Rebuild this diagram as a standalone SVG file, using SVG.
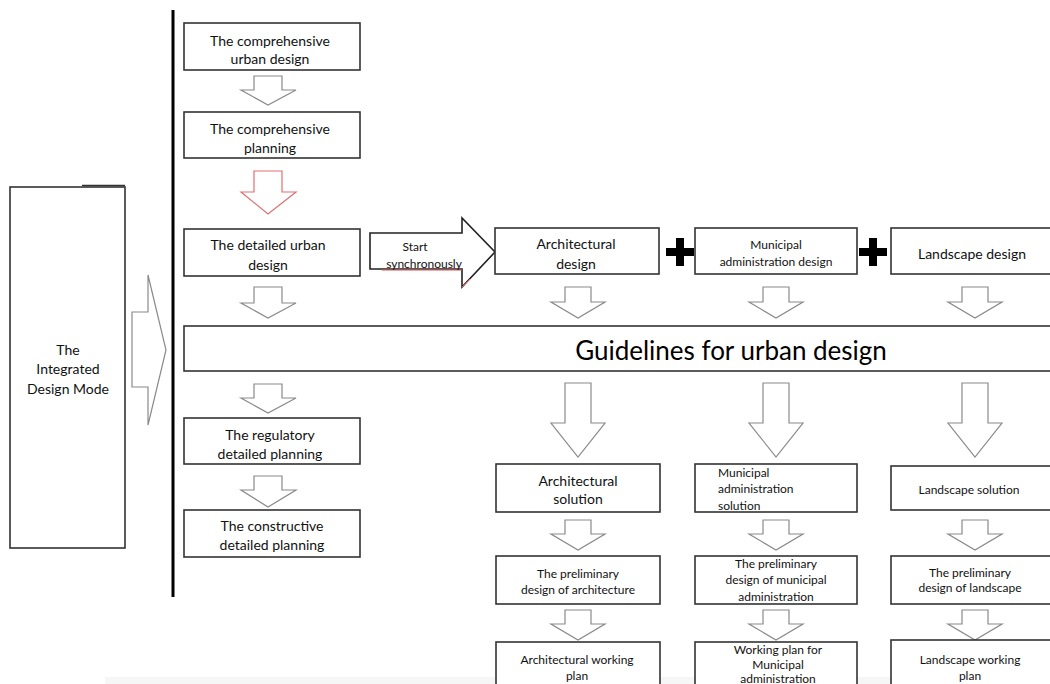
<svg xmlns="http://www.w3.org/2000/svg" width="1050" height="684" viewBox="0 0 1050 684">
<style>
.box{fill:#fff;stroke:#333;stroke-width:1.6}
.t{font-family:Lato,"Open Sans","Liberation Sans",sans-serif;font-size:14px;fill:#111;text-anchor:middle}
.s{font-size:12px}
.arr{fill:#fff;stroke:#8a8a8a;stroke-width:1.2}
.red{stroke:#e07070}
.plus{fill:#000}
</style>
<rect width="1050" height="684" fill="#fff"/>
<rect x="105" y="677" width="945" height="7" fill="#f6f6f6"/>
<line x1="173" y1="10" x2="173" y2="597" stroke="#000" stroke-width="3"/>
<g id="connectors">
<polygon class="arr" points="132,312 148,312 148,275 166,350 148,425 148,387 132,387"/>
<polygon class="arr" points="254,76 282,76 282,90 296,90 268,105 241,90 254,90"/>
<polygon class="arr red" points="254,171 282,171 282,192 296,192 268,214 241,192 254,192"/>
<polygon class="arr" points="254,287 282,287 282,303 296,303 268,318 241,303 254,303"/>
<polygon class="arr" points="254,384 282,384 282,398 296,398 268,413 241,398 254,398"/>
<polygon class="arr" points="254,476 282,476 282,490 296,490 268,507 241,490 254,490"/>
<polygon class="arr" points="565,287 591,287 591,302 605,302 578,318 551,302 565,302"/>
<polygon class="arr" points="763,287 789,287 789,302 803,302 776,318 749,302 763,302"/>
<polygon class="arr" points="962,287 988,287 988,302 1002,302 975,318 948,302 962,302"/>
<polygon class="arr" points="565,383 591,383 591,423 605,423 578,457 551,423 565,423"/>
<polygon class="arr" points="763,383 789,383 789,423 803,423 776,457 749,423 763,423"/>
<polygon class="arr" points="962,383 988,383 988,423 1002,423 975,457 948,423 962,423"/>
<polygon class="arr" points="565,520 591,520 591,534 605,534 578,550 551,534 565,534"/>
<polygon class="arr" points="763,520 789,520 789,534 803,534 776,550 749,534 763,534"/>
<polygon class="arr" points="962,520 988,520 988,534 1002,534 975,550 948,534 962,534"/>
<polygon class="arr" points="565,610 591,610 591,624 605,624 578,640 551,624 565,624"/>
<polygon class="arr" points="763,610 789,610 789,624 803,624 776,640 749,624 763,624"/>
<polygon class="arr" points="962,610 988,610 988,624 1002,624 975,640 948,624 962,624"/>
<polygon points="370,233 462,233 462,218 495,252 462,287 462,269 370,269" fill="#fff" stroke="#222" stroke-width="1.6"/>
<line x1="382" y1="270" x2="462" y2="270" stroke="#e05050" stroke-width="1"/>
<line x1="462" y1="287" x2="470" y2="279" stroke="#e05050" stroke-width="1"/>
<path class="plus" d="M676,238h8v10h10v8h-10v10h-8v-10h-10v-8h10z"/>
<path class="plus" d="M869,238h8v10h10v8h-10v10h-8v-10h-10v-8h10z"/>
</g>
<g id="mode">
<rect class="box" x="10" y="187" width="115" height="361"/>
<line x1="82" y1="185.5" x2="125" y2="185.5" stroke="#333" stroke-width="1.6"/>
<text class="t" x="68" y="355">The</text>
<text class="t" x="68" y="374">Integrated</text>
<text class="t" x="68" y="394">Design Mode</text>
</g>
<g id="n1"><rect class="box" x="184" y="23" width="176" height="47"/>
<text class="t" x="270" y="46">The comprehensive</text><text class="t" x="270" y="64">urban design</text></g>
<g id="n2"><rect class="box" x="184" y="112" width="176" height="46"/>
<text class="t" x="270" y="134">The comprehensive</text><text class="t" x="270" y="153">planning</text></g>
<g id="n3"><rect class="box" x="184" y="229" width="176" height="47"/>
<text class="t" x="268" y="250">The detailed urban</text><text class="t" x="268" y="270">design</text></g>
<g id="guidelines"><rect class="box" x="184" y="326" width="870" height="45"/>
<text class="t" x="731" y="360" style="font-size:26px;fill:#000">Guidelines for urban design</text></g>
<g id="n4"><rect class="box" x="184" y="418" width="176" height="46"/>
<text class="t" x="270" y="440">The regulatory</text><text class="t" x="270" y="459">detailed planning</text></g>
<g id="n5"><rect class="box" x="184" y="510" width="176" height="47"/>
<text class="t" x="272" y="531">The constructive</text><text class="t" x="272" y="550">detailed planning</text></g>
<g id="start"><text class="t s" x="415" y="251">Start</text><text class="t s" x="424" y="268">synchronously</text></g>
<g id="archd"><rect class="box" x="495" y="228" width="164" height="46"/>
<text class="t" x="576" y="249">Architectural</text><text class="t" x="576" y="269">design</text></g>
<g id="munid"><rect class="box" x="695" y="228" width="162" height="46"/>
<text class="t s" x="776" y="249">Municipal</text><text class="t s" x="776" y="266">administration design</text></g>
<g id="landd"><rect class="box" x="891" y="228" width="163" height="46"/>
<text class="t" x="972" y="259">Landscape design</text></g>
<g id="archs"><rect class="box" x="496" y="464" width="164" height="48"/>
<text class="t" x="578" y="486">Architectural</text><text class="t" x="578" y="504">solution</text></g>
<g id="munis"><rect class="box" x="695" y="464" width="162" height="48"/>
<text class="t s" x="718" y="477" style="text-anchor:start">Municipal</text>
<text class="t s" x="718" y="493" style="text-anchor:start">administration</text>
<text class="t s" x="718" y="510" style="text-anchor:start">solution</text></g>
<g id="lands"><rect class="box" x="891" y="466" width="163" height="44"/>
<text class="t s" x="969" y="494">Landscape solution</text></g>
<g id="archp"><rect class="box" x="496" y="556" width="164" height="48"/>
<text class="t s" x="578" y="578">The preliminary</text><text class="t s" x="578" y="594">design of architecture</text></g>
<g id="munip"><rect class="box" x="695" y="556" width="162" height="48"/>
<text class="t s" x="776" y="568">The preliminary</text><text class="t s" x="776" y="584">design of municipal</text><text class="t s" x="776" y="601">administration</text></g>
<g id="landp"><rect class="box" x="891" y="556" width="163" height="48"/>
<text class="t s" x="970" y="577">The preliminary</text><text class="t s" x="970" y="592">design of landscape</text></g>
<g id="archw"><rect class="box" x="496" y="642" width="164" height="60"/>
<text class="t s" x="577" y="664">Architectural working</text><text class="t s" x="577" y="680">plan</text></g>
<g id="muniw"><rect class="box" x="695" y="642" width="162" height="60"/>
<text class="t s" x="778" y="654">Working plan for</text><text class="t s" x="778" y="669">Municipal</text><text class="t s" x="778" y="683">administration</text></g>
<g id="landw"><rect class="box" x="891" y="640" width="163" height="60"/>
<text class="t s" x="970" y="664">Landscape working</text><text class="t s" x="970" y="680">plan</text></g>
</svg>
